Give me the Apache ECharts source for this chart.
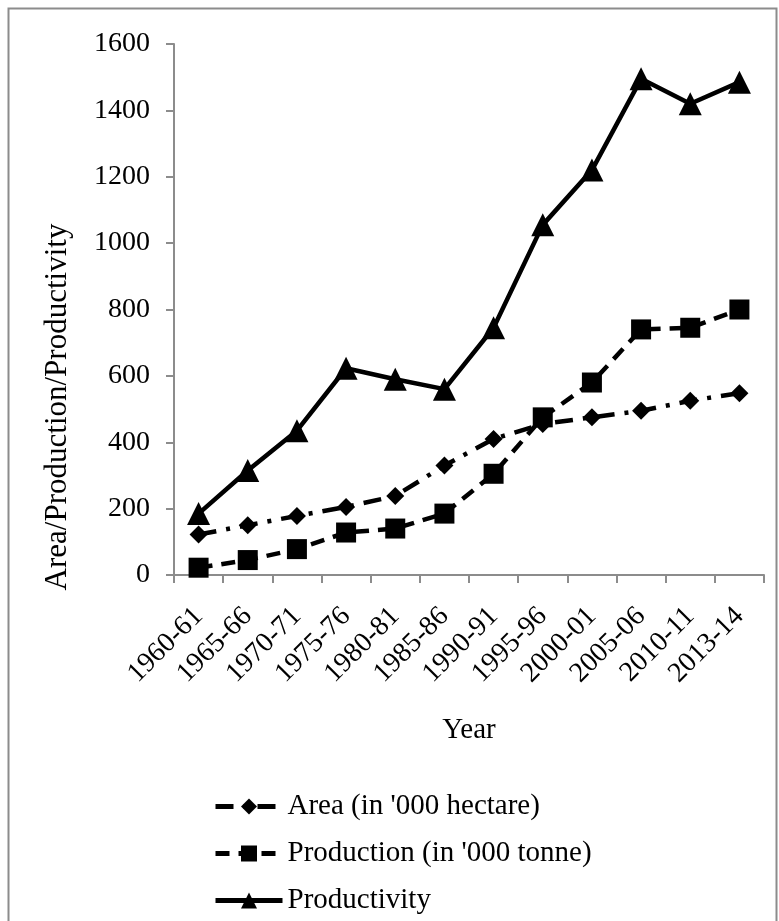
<!DOCTYPE html>
<html>
<head>
<meta charset="utf-8">
<script src="https://cdn.jsdelivr.net/npm/echarts@6/dist/echarts.min.js"></script>
<style>
html, body { margin: 0; padding: 0; background: #fff; }
#main { width: 779px; height: 921px; }
</style>
</head>
<body>
<div id="main"></div>
<script>
// data
var years = ['1960-61', '1965-66', '1970-71', '1975-76', '1980-81', '1985-86',
	'1990-91', '1995-96', '2000-01', '2005-06', '2010-11', '2013-14'];
var area = [122, 150, 178, 205, 238, 330, 410, 455, 475, 495, 525, 548];
var production = [22, 45, 78, 128, 140, 185, 305, 475, 580, 740, 745, 800];
var productivity = [185, 315, 435, 623, 590, 560, 745, 1055, 1220, 1495, 1420, 1485];

var serif = '"Liberation Serif", "DejaVu Serif", serif';

var myChart = echarts.init(document.getElementById('main'));

var option = {
	backgroundColor: '#fff',
	animation: false,
	graphic: [{
		type: 'rect',
		shape: { x: 8.5, y: 8.5, width: 768, height: 930 },
		style: { fill: 'none', stroke: '#8c8c8c', lineWidth: 2 },
		silent: true
	}, {
		// y axis title, placed like the original (a bit below the axis middle)
		type: 'text',
		x: 58,
		y: 407,
		rotation: Math.PI / 2,
		style: {
			text: 'Area/Production/Productivity',
			font: '31px ' + serif,
			fill: '#000',
			align: 'center',
			verticalAlign: 'middle'
		},
		silent: true
	}],
	grid: {
		left: 174,
		right: 15,
		top: 44,
		bottom: 346
	},
	legend: {
		orient: 'vertical',
		left: 208,
		top: 786,
		itemGap: 16,
		itemWidth: 67,
		itemHeight: 20,
		lineStyle: { width: 5 },
		textStyle: { fontFamily: serif, fontSize: 29, lineHeight: 31, color: '#000' },
		data: ["Area (in '000 hectare)", "Production (in '000 tonne)", 'Productivity']
	},
	xAxis: {
		type: 'category',
		data: years,
		boundaryGap: true,
		name: 'Year',
		nameLocation: 'middle',
		nameGap: 141,
		nameTextStyle: { fontFamily: serif, fontSize: 29, color: '#000' },
		axisLine: { lineStyle: { color: '#8c8c8c', width: 2 } },
		axisTick: { show: true, alignWithLabel: false, length: 8, lineStyle: { color: '#8c8c8c', width: 2 } },
		axisLabel: {
			rotate: 45,
			interval: 0,
			margin: 37,
			fontFamily: serif,
			fontSize: 28,
			color: '#000'
		},
		splitLine: { show: false }
	},
	yAxis: {
		type: 'value',
		min: 0,
		max: 1600,
		interval: 200,
		axisLine: { show: true, lineStyle: { color: '#8c8c8c', width: 2 } },
		axisTick: { show: true, length: 8, lineStyle: { color: '#8c8c8c', width: 2 } },
		axisLabel: {
			margin: 24,
			fontFamily: serif,
			fontSize: 28,
			color: '#000',
			formatter: function (v) { return String(v); }
		},
		splitLine: { show: false }
	},
	series: [{
		name: "Area (in '000 hectare)",
		type: 'line',
		data: area,
		symbol: 'diamond',
		symbolSize: 18,
		itemStyle: { color: '#000' },
		lineStyle: { color: '#000', width: 4.5, type: [18, 10, 4, 10] }
	}, {
		name: "Production (in '000 tonne)",
		type: 'line',
		data: production,
		symbol: 'rect',
		symbolSize: 20,
		itemStyle: { color: '#000' },
		lineStyle: { color: '#000', width: 4.5, type: [14, 9] }
	}, {
		name: 'Productivity',
		type: 'line',
		data: productivity,
		symbol: 'triangle',
		symbolSize: 23,
		itemStyle: { color: '#000' },
		lineStyle: { color: '#000', width: 4.5 }
	}]
};

myChart.setOption(option);
</script>
</body>
</html>
